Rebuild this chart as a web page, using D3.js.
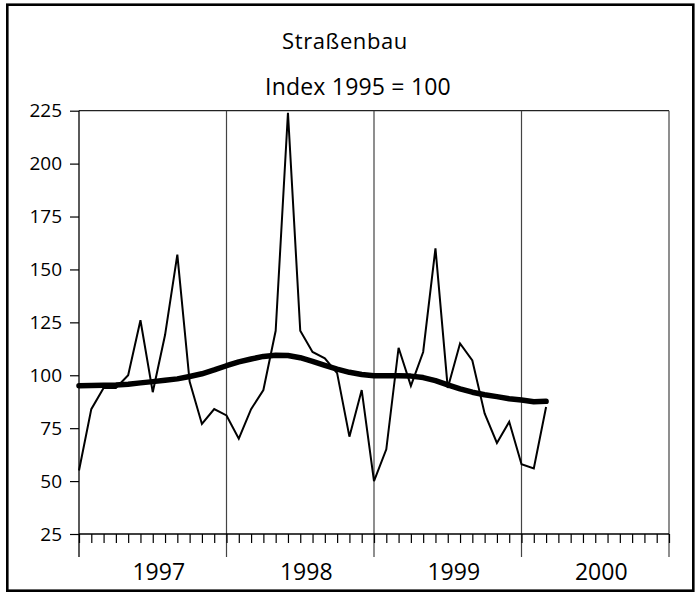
<!DOCTYPE html>
<html><head><meta charset="utf-8">
<script src="https://cdn.jsdelivr.net/npm/d3@7"></script>
<style>body{margin:0;background:#fff}svg{display:block}text{font-family:"Open Sans","Noto Sans",sans-serif;fill:#000}</style>
</head><body><svg id="c" width="699" height="593"></svg>
<script>
const title = "Straßenbau";
const subtitle = "Index 1995 = 100";
const years = ["1997","1998","1999","2000"];
const yTicks = [25,50,75,100,125,150,175,200,225];
// monthly values Jan 1997 .. Mar 2000
const original = [55,84,94,94,100,126,92,119,157,97,77,84,
                  81,70,84,93,121,224,121,111,108,101,71,93,
                  50,65,113,95,111,160,94,115,107,82,68,78,
                  58,56,85];
const trend = [95.1,95.2,95.3,95.4,95.8,96.4,97.0,97.6,98.3,99.4,100.7,102.5,
               104.5,106.3,107.7,108.9,109.5,109.3,108.3,106.6,104.7,102.9,101.4,100.4,
               99.8,99.8,99.8,99.6,98.9,97.5,95.5,93.6,92.0,90.8,89.9,88.9,
               88.3,87.5,87.7];

const svg = d3.select("#c");
const L = 79, R = 669, T = 110.7, B = 534;
const nMonths = years.length * 12;
const x = d3.scaleLinear().domain([0, nMonths]).range([L, R]);
const y = d3.scaleLinear().domain([25, 225]).range([B, T]);

// outer frame
svg.append("rect").attr("x",7.3).attr("y",4.7).attr("width",686).attr("height",586)
  .attr("fill","none").attr("stroke","#000").attr("stroke-width",2.6);

svg.append("text").attr("x",345).attr("y",48.5).attr("text-anchor","middle")
  .attr("font-size",22).attr("letter-spacing",0.6).text(title);
svg.append("text").attr("x",358).attr("y",95).attr("text-anchor","middle")
  .attr("font-size",23).attr("letter-spacing",0.2).text(subtitle);

// plot box: top and right
svg.append("line").attr("x1",L).attr("x2",R).attr("y1",T).attr("y2",T).attr("stroke","#222").attr("stroke-width",1.2);
svg.append("line").attr("x1",R).attr("x2",R).attr("y1",T).attr("y2",557).attr("stroke","#444").attr("stroke-width",1.2);

// year separators
for (let k = 1; k < years.length; k++) {
  svg.append("line").attr("x1",x(k*12)).attr("x2",x(k*12)).attr("y1",T).attr("y2",557)
    .attr("stroke","#444").attr("stroke-width",1.2);
}

// y axis
const yAxis = d3.axisLeft(y).tickValues(yTicks).tickSize(9).tickPadding(8);
const ga = svg.append("g").attr("transform",`translate(${L},0)`).call(yAxis);
ga.select(".domain").remove();
ga.selectAll("line").attr("stroke","#000").attr("stroke-width",1.2);
ga.selectAll("text").attr("font-size",19).style("font-family",'"Open Sans","Noto Sans",sans-serif').attr("fill","#000");
svg.append("line").attr("x1",L).attr("x2",L).attr("y1",T).attr("y2",557).attr("stroke","#000").attr("stroke-width",1.3);

// x axis: month ticks
const xAxis = d3.axisBottom(x).tickValues(d3.range(0, nMonths+1)).tickSize(9).tickFormat("");
const gx = svg.append("g").attr("transform",`translate(0,${B})`).call(xAxis);
gx.select(".domain").attr("stroke","#000").attr("stroke-width",1.3).attr("d",`M${L},0H${R}`);
gx.selectAll("line").attr("stroke","#000").attr("stroke-width",1.2);

// year labels
svg.selectAll(".yl").data(years).enter().append("text")
  .attr("x",(d,i)=>x(i*12+6)+6).attr("y",580).attr("text-anchor","middle")
  .attr("font-size",23).text(d=>d);

const line = d3.line().x((d,i)=>x(i)).y(d=>y(d));
svg.append("path").datum(trend).attr("d",line).attr("fill","none")
  .attr("stroke","#000").attr("stroke-width",5.5).attr("stroke-linejoin","round").attr("stroke-linecap","round");
svg.append("path").datum(original).attr("d",line).attr("fill","none")
  .attr("stroke","#000").attr("stroke-width",2).attr("stroke-linejoin","miter");
</script></body></html>
